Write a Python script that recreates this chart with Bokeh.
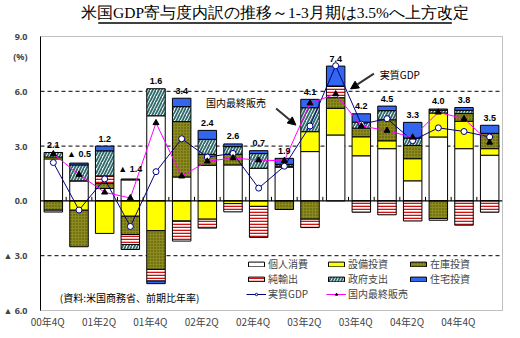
from bokeh.plotting import figure
from bokeh.layouts import column
from bokeh.models import (Range1d, LinearAxis, FixedTicker, Span, Label, Arrow,
                          NormalHead, Legend, LegendItem)
from bokeh.embed import file_html
from bokeh.resources import INLINE

# ---------------- data ----------------
quarters = ["00年4Q", "01年1Q", "01年2Q", "01年3Q", "01年4Q", "02年1Q", "02年2Q", "02年3Q",
            "02年4Q", "03年1Q", "03年2Q", "03年3Q", "03年4Q", "04年1Q", "04年2Q", "04年3Q",
            "04年4Q", "05年1Q"]
tick_labels = quarters[::2]

pce   = [2.30, 1.10, 0.68, 1.15, 4.66, 1.31, 1.95, 1.97, 1.79, 1.85, 2.70, 3.61, 2.47, 2.86, 1.10, 3.50, 2.86, 2.50]
equip = [0.10, -0.51, -1.78, -0.84, -1.63, -1.10, -1.00, -0.15, -0.30, 0.05, 1.09, 1.46, 1.04, 0.43, 1.21, 1.31, 1.50, 0.36]
inv   = [-0.51, -2.00, 0.27, -1.00, -2.12, 3.03, 0.60, 0.58, 0.00, -0.47, -1.00, 0.58, 0.47, 1.15, 0.73, -0.97, 0.42, 0.84]
netx  = [-0.10, 0.00, 0.42, -0.55, -0.64, -1.10, -0.49, -0.45, -1.70, 0.00, -0.46, 0.64, -0.62, -0.76, -1.10, -0.09, -1.33, -0.62]
gov   = [0.25, 0.87, 1.37, -0.27, 1.48, 0.82, 0.82, 0.42, 0.80, 0.10, 1.31, 0.00, 0.33, 0.50, 0.40, 0.15, 0.18, 0.00]
resid = [0.00, 0.10, 0.26, 0.05, -0.14, 0.46, 0.49, 0.15, 0.16, 0.33, 0.46, 1.09, 0.46, 0.25, 0.86, 0.07, 0.15, 0.44]
gdp   = [2.1, -0.5, 1.2, -1.4, 1.6, 3.4, 2.4, 2.6, 0.7, 1.9, 4.1, 7.4, 4.2, 4.5, 3.3, 4.0, 3.8, 3.5]
final_sales = [2.57, 1.44, 0.47, 0.16, 4.27, 1.35, 2.17, 2.35, 2.23, 2.20, 5.35, 5.85, 4.10, 3.85, 3.48, 4.85, 4.50, 3.20]

y_ticks = [-6, -3, 0, 3, 6, 9]
y_tick_labels = ["▲ 6.0", "▲ 3.0", "0.0", "3.0", "6.0", "9.0"]
unit_label = "(%)"

title_text = "米国GDP寄与度内訳の推移～1-3月期は3.5%へ上方改定"
source_note = "(資料:米国商務省、前期比年率)"

JP = "Noto Sans CJK JP"
n = len(quarters)
xs = [i + 0.5 for i in range(n)]

# ---------------- title strip ----------------
TW, TH = 520, 30
tf = figure(width=TW, height=TH, x_range=Range1d(0, TW), y_range=Range1d(0, TH), title=None,
            output_backend="svg", toolbar_location=None, x_axis_type=None, y_axis_type=None,
            min_border=0, outline_line_color=None)
tf.xgrid.visible = False
tf.ygrid.visible = False
tf.text(x=[TW / 2 + 4], y=[TH - 12], text=[title_text], text_align="center",
        text_baseline="alphabetic", text_font="Noto Sans CJK JP", text_font_size="15.5px",
        text_color="black")
tf.segment(x0=[65], x1=[463], y0=[TH - 22.5], y1=[TH - 22.5], line_color="black", line_width=1.5)

# ---------------- main chart ----------------
p = figure(width=520, height=308, x_range=Range1d(0, n), y_range=Range1d(y_ticks[0], y_ticks[-1]),
           output_backend="svg", toolbar_location=None, x_axis_type=None, y_axis_type=None,
           min_border_left=34, min_border_right=18, min_border_top=6, min_border_bottom=28)
p.xgrid.visible = False
p.ygrid.visible = False
p.outline_line_color = "#808080"
p.outline_line_dash = "1 1"
p.background_fill_color = "white"

for lv in y_ticks[1:-1]:
    if lv != 0:
        p.add_layout(Span(location=lv, dimension="width", line_color="black", line_width=1,
                          line_dash="4 3", level="underlay"))

series = [
    ("個人消費", pce, dict(fill_color="white")),
    ("設備投資", equip, dict(fill_color="#ffff00")),
    ("在庫投資", inv, dict(fill_color="#8c8c1e", hatch_pattern="dot", hatch_color="#4d4d0a",
                       hatch_scale=3, hatch_weight=1)),
    ("純輸出", netx, dict(fill_color="white", hatch_pattern="horizontal_line", hatch_color="#cc1111",
                      hatch_scale=3, hatch_weight=1.6)),
    ("政府支出", gov, dict(fill_color="#f2f7f7", hatch_pattern="right_diagonal_line",
                       hatch_color="#2e6a6a", hatch_scale=6, hatch_weight=1.8)),
    ("住宅投資", resid, dict(fill_color="#3366ee")),
]
pos = [0.0] * n
neg = [0.0] * n
bar_renderers = {}
for name, vals, style in series:
    bottoms, tops = [], []
    for i, v in enumerate(vals):
        if v >= 0:
            b = pos[i]; t = b + v; pos[i] = t
        else:
            b = neg[i]; t = b + v; neg[i] = t
        bottoms.append(b); tops.append(t)
    r = p.vbar(x=xs, bottom=bottoms, top=tops, width=0.72, line_color="black", line_width=1, **style)
    bar_renderers[name] = r

p.add_layout(Span(location=0, dimension="width", line_color="black", line_width=1.2))
bounds = list(range(1, n))
p.segment(x0=bounds, x1=bounds, y0=[0] * len(bounds), y1=[0.22] * len(bounds),
          line_color="black", line_width=1)

gl = p.line(xs, gdp, line_color="#000080", line_width=1)
gm = p.scatter(xs, gdp, marker="circle", size=6, fill_color="white", line_color="#000080", line_width=1)
fl = p.line(xs, final_sales, line_color="#ff00ff", line_width=1)
fm = p.scatter(xs, final_sales, marker="triangle", size=6, fill_color="black", line_color="black")

lab_text = [(f"▲ {abs(v):.1f}" if v < 0 else f"{v:.1f}") for v in gdp]
lab_y = [t + 0.25 for t in pos]
p.text(x=xs, y=lab_y, text=lab_text, text_align="center", text_baseline="bottom",
       text_font_size="9px", text_font_style="bold", text_color="black")

p.add_layout(Label(x=6.45, y=5.38, text="国内最終販売", text_font=JP, text_font_size="10px",
                   text_baseline="middle", text_color="black"))
p.add_layout(Arrow(end=NormalHead(size=8, fill_color="black", line_color="black"),
                   x_start=9.18, y_start=5.06, x_end=9.95, y_end=4.15,
                   line_color="#333333", line_width=2))
p.add_layout(Label(x=13.22, y=6.92, text="実質GDP", text_font=JP, text_font_size="10px",
                   text_baseline="middle", text_color="black"))
p.add_layout(Arrow(end=NormalHead(size=8, fill_color="black", line_color="black"),
                   x_start=12.99, y_start=6.97, x_end=12.08, y_end=6.13,
                   line_color="#333333", line_width=2))
p.add_layout(Label(x=0.75, y=-5.27, text=source_note, text_font=JP, text_font_size="10px",
                   text_baseline="middle", text_color="black"))

unit_pos = 7.9
yaxis = LinearAxis(ticker=FixedTicker(ticks=y_ticks + [unit_pos]),
                   major_label_overrides={**dict(zip(y_ticks, y_tick_labels)), unit_pos: unit_label})
yaxis.axis_line_color = "black"
yaxis.axis_line_width = 1
yaxis.major_tick_line_color = None
yaxis.minor_tick_line_color = None
yaxis.major_label_standoff = 7
yaxis.major_label_text_font_size = "9px"
yaxis.major_label_text_font = "Noto Sans"
yaxis.major_label_text_font_style = "bold"
p.add_layout(yaxis, "left")

xt = [round(i + 0.5 - 0.22, 2) for i in range(0, n, 2)]
xaxis = LinearAxis(ticker=FixedTicker(ticks=xt),
                   major_label_overrides=dict(zip(xt, tick_labels)))
xaxis.axis_line_color = None
xaxis.major_tick_line_color = None
xaxis.minor_tick_line_color = None
xaxis.major_tick_out = 0
xaxis.major_label_standoff = 3
xaxis.major_label_text_font_size = "10px"
xaxis.major_label_text_font = JP
p.add_layout(xaxis, "below")

items = [LegendItem(label=name, renderers=[bar_renderers[name]]) for name, _, _ in series]
items += [LegendItem(label="実質GDP", renderers=[gl, gm]),
          LegendItem(label="国内最終販売", renderers=[fl, fm])]
legend = Legend(items=items, location=(206, 9), orientation="horizontal", ncols=3,
                glyph_width=20, glyph_height=6, label_width=58, label_height=11,
                label_standoff=2, spacing=0, padding=0, margin=0,
                label_text_font=JP, label_text_font_size="10px",
                background_fill_alpha=0, border_line_color=None)
p.add_layout(legend)

open("out.html", "w").write(file_html(column(tf, p, spacing=0), INLINE))
